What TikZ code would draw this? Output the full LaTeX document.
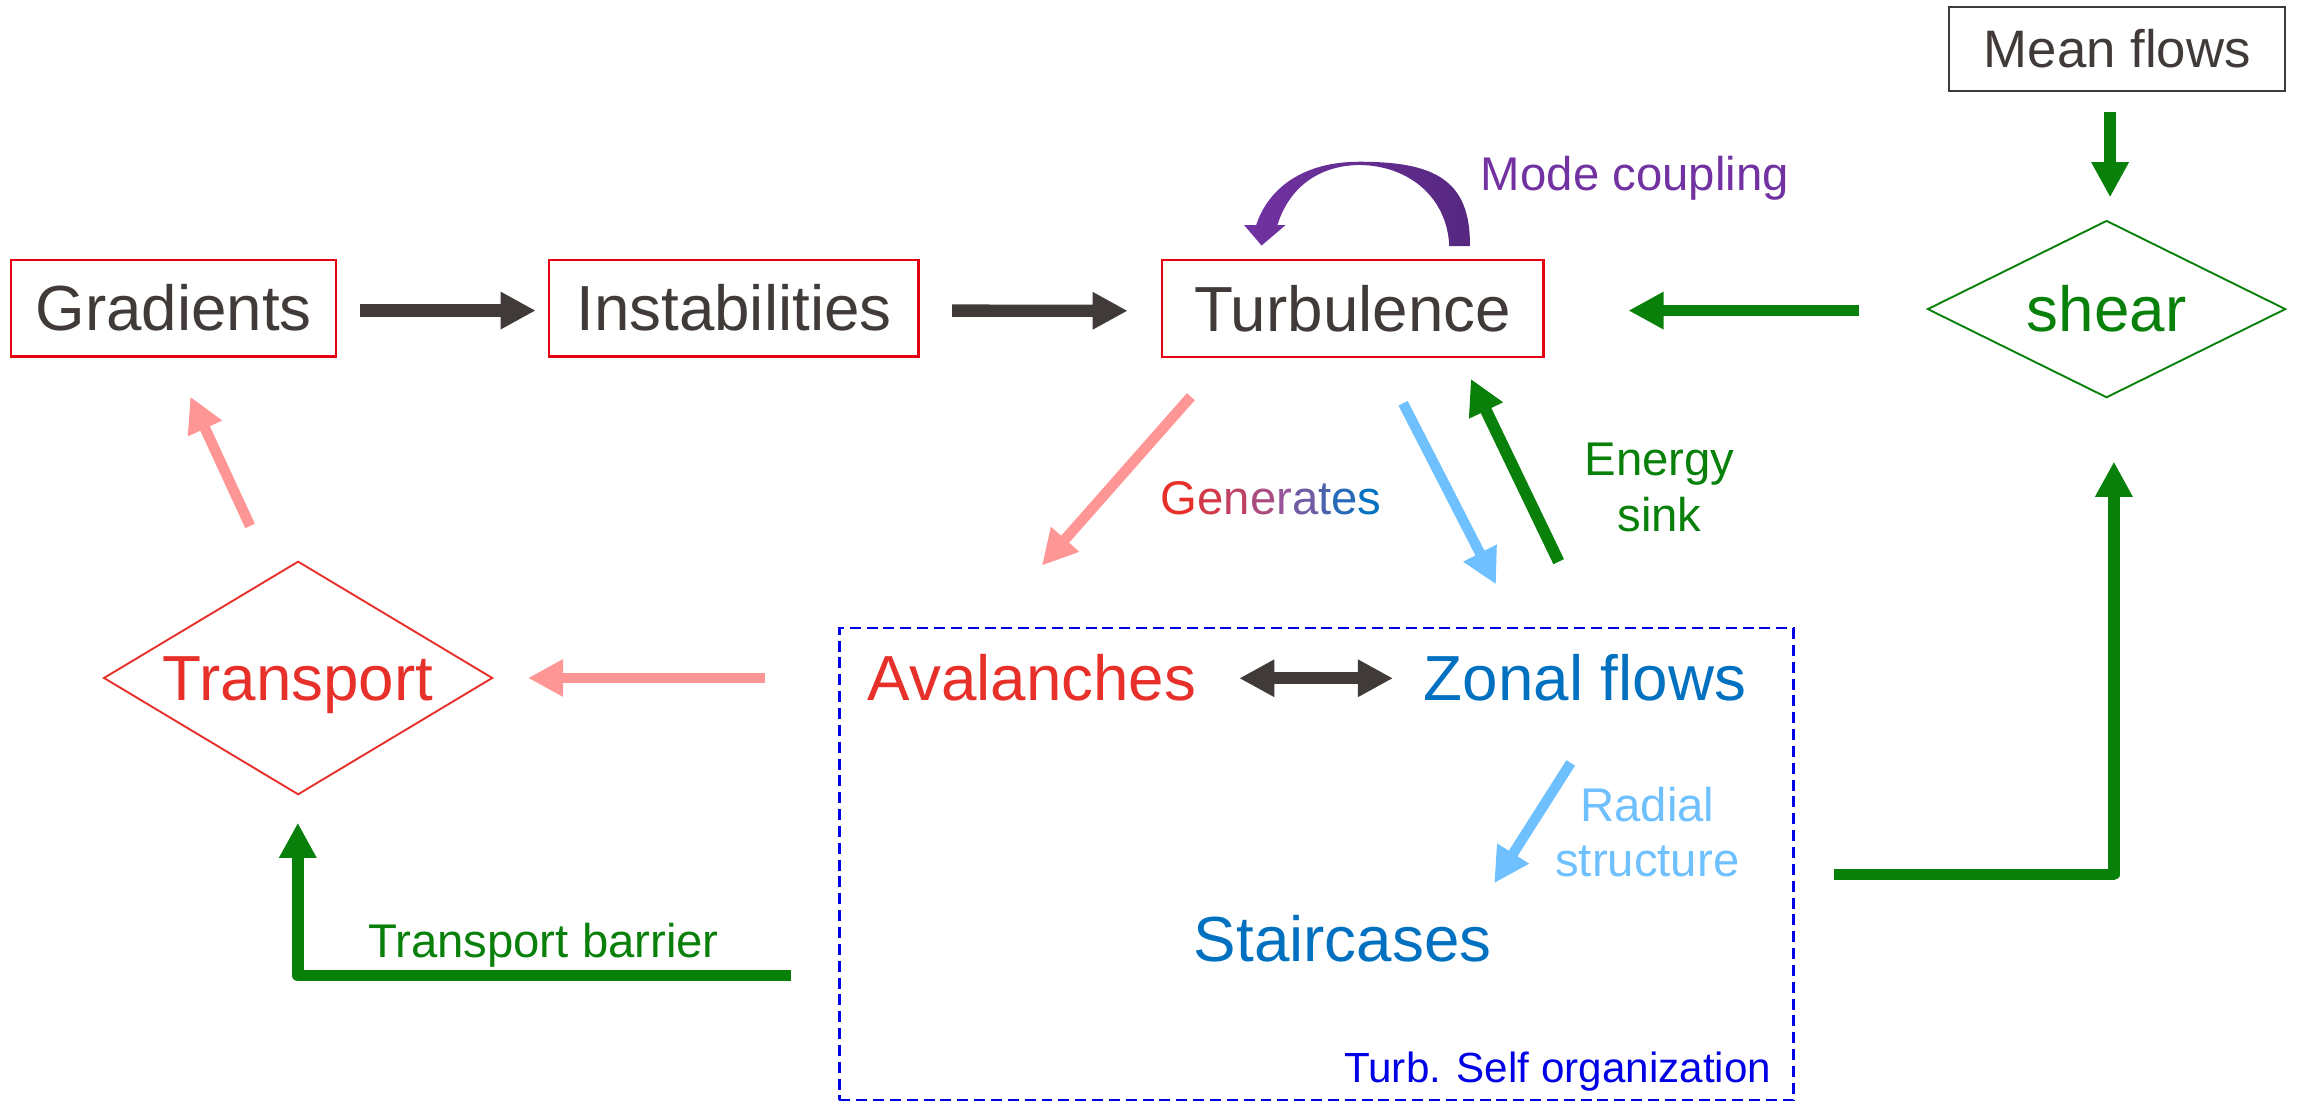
\documentclass[tikz,border=0pt]{standalone}
\usepackage{fontspec}
\setmainfont{Liberation Sans}
\usetikzlibrary{arrows.meta,shapes.geometric}
\definecolor{dgray}{RGB}{64,59,56}
\definecolor{boxred}{RGB}{230,0,18}
\definecolor{tred}{RGB}{232,48,42}
\definecolor{pinkc}{RGB}{255,150,150}
\definecolor{lblue}{RGB}{110,192,255}
\definecolor{zblue}{RGB}{0,112,192}
\definecolor{gr}{RGB}{8,128,10}
\definecolor{purp}{RGB}{114,50,162}
\definecolor{purpd}{RGB}{86,40,128}
\definecolor{dblue}{RGB}{0,0,230}
\newcommand{\fBig}{\fontsize{43.5}{50}\selectfont}
\newcommand{\fMid}{\fontsize{32.3}{38}\selectfont}
\newcommand{\fSmall}{\fontsize{28.8}{33}\selectfont}
\newcommand{\fMean}{\fontsize{36}{42}\selectfont}
\begin{document}
\begin{tikzpicture}[x=1pt,y=-1pt,
  every node/.style={inner sep=0pt, outer sep=0pt},
  bigtext/.style={font=\fBig, text height=31pt, text depth=0pt},
  midtext/.style={font=\fMid, text height=23pt, text depth=0pt},
  redbox/.style={bigtext, draw=boxred, line width=1.5pt, text=dgray, minimum height=66pt},
  headtri/.style={-{Triangle[length=24pt,width=24pt]}},
  dkarrow/.style={headtri, draw=dgray, line width=8.4pt},
  grarrow/.style={headtri, draw=gr, line width=8pt},
  elbow/.style={headtri, draw=gr, line width=7.8pt, line join=round},
  pkarrow/.style={headtri, draw=pinkc, line width=7.2pt},
  lbarrow/.style={headtri, draw=lblue, line width=7pt}
]
\useasboundingbox (0,0) rectangle (1568,752);

% boxes
\node[redbox, minimum width=221.5pt] (grad) at (118.5,210.4) {Gradients};
\node[redbox, minimum width=252pt] (inst) at (501,210.4) {Instabilities};
\node[redbox, minimum width=260.6pt] (turb) at (923.3,210.6) {Turbulence};
\node[draw=dgray, line width=1.3pt, font=\fMean, text=dgray, text height=26pt, text depth=0pt,
      minimum width=229.5pt, minimum height=57.3pt] (mean) at (1445.3,33.3) {Mean flows};
\node[diamond, aspect=2, draw=gr, line width=1.3pt, bigtext, text=gr,
      minimum width=244pt, minimum height=120.4pt] (shear) at (1438,211) {shear};
\node[diamond, aspect=1.7, draw=tred, line width=1.3pt, bigtext, text=tred,
      minimum width=265pt, minimum height=158.8pt] (transp) at (203.5,462.8) {Transport};
\node[draw=dblue, line width=1.6pt, dash pattern=on 7.5pt off 4pt,
      minimum width=651.3pt, minimum height=322pt] (selforg) at (898.6,589.9) {};

% texts in the self-organization box
\node[bigtext, text=tred] (aval) at (704.5,463) {Avalanches};
\node[bigtext, text=zblue] (zonal) at (1082,463) {Zonal flows};
\node[bigtext, text=zblue] (stair) at (916.5,641) {Staircases};
\node[font=\fSmall, text=dblue, anchor=base east] (sotext) at (1209,739) {Turb. Self organization};

% labels
\node[midtext, text=purp] (modec) at (1116,118.5) {Mode coupling};
\node[midtext] (gen) at (867.7,339.5) {\textcolor[RGB]{232,48,42}{G}\textcolor[RGB]{211,57,70}{e}\textcolor[RGB]{191,66,98}{n}\textcolor[RGB]{170,76,127}{e}\textcolor[RGB]{150,85,155}{r}\textcolor[RGB]{112,92,164}{a}\textcolor[RGB]{75,98,173}{t}\textcolor[RGB]{37,105,183}{e}\textcolor[RGB]{0,112,192}{s}};
\node[font=\fMid, text=gr, align=center] (esink) at (1132.8,332.9) {Energy\\sink};
\node[font=\fMid, text=lblue, align=center] (radial) at (1124.5,568.1) {Radial\\structure};
\node[midtext, text=gr] (tbar) at (371,641.9) {Transport barrier};

% free arrow ends
\coordinate (mf1) at (1440.4,76.2);
\coordinate (mf2) at (1440.4,134.7);
\coordinate (g1) at (812.9,270.8);
\coordinate (g2) at (711.2,386.1);
\coordinate (b1) at (957.8,275.3);
\coordinate (b2) at (1021.2,398.9);
\coordinate (e1) at (1064,383.4);
\coordinate (e2) at (1004,258.6);
\coordinate (r1) at (1072.2,520.8);
\coordinate (r2) at (1020,602.9);
\coordinate (t1) at (170.7,359);
\coordinate (t2) at (129.9,270.7);
\coordinate (tb1) at (539.8,666);
\coordinate (tb2) at (203.3,666);
\coordinate (tb3) at (203.3,561.6);
\coordinate (s1) at (1251.6,596.9);
\coordinate (s2) at (1443,596.9);
\coordinate (s3) at (1443,315.1);

% arrows
\draw[dkarrow, shorten <=16.2pt, shorten >=9.3pt] ([yshift=-1.6pt]grad.east) -- ([yshift=-1.6pt]inst.west);
\draw[dkarrow, shorten <=23pt, shorten >=23.2pt] ([yshift=-1.6pt]inst.east) -- ([yshift=-1.6pt]turb.west);
\draw[grarrow, shorten <=47pt, shorten >=58pt] ([yshift=-1pt]shear.west) -- ([yshift=-1.4pt]turb.east);
\draw[grarrow, line width=8.3pt] (mf1) -- (mf2);
\draw[pkarrow] (g1) -- (g2);
\draw[lbarrow] (b1) -- (b2);
\draw[grarrow] (e1) -- (e2);
\draw[dkarrow, {Triangle[length=24pt,width=24pt]}-{Triangle[length=24pt,width=24pt]}, shorten <=29.4pt, shorten >=21.1pt] (aval) -- (zonal);
\draw[lbarrow] (r1) -- (r2);
\draw[pkarrow, shorten <=51pt, shorten >=24.4pt] (selforg.west |- transp) -- (transp.east);
\draw[pkarrow] (t1) -- (t2);
\draw[elbow] (tb1) -- (tb2) -- (tb3);
\draw[elbow] (s1) -- (s2) -- (s3);

% mode coupling curved arrow
\shade[left color=purp, right color=purpd]
  (1003.4,168) .. controls (1004,122) and (978,110.4) .. (928,110.4)
  .. controls (890,110.4) and (866,128) .. (857.5,153.6)
  -- (849.2,153.6) -- (861.2,167.6) -- (877.6,153.6) -- (872,153.6)
  .. controls (880,128) and (900,113) .. (928,112.6)
  .. controls (962,113) and (988,135) .. (989.3,168) -- cycle;
\end{tikzpicture}
\end{document}
